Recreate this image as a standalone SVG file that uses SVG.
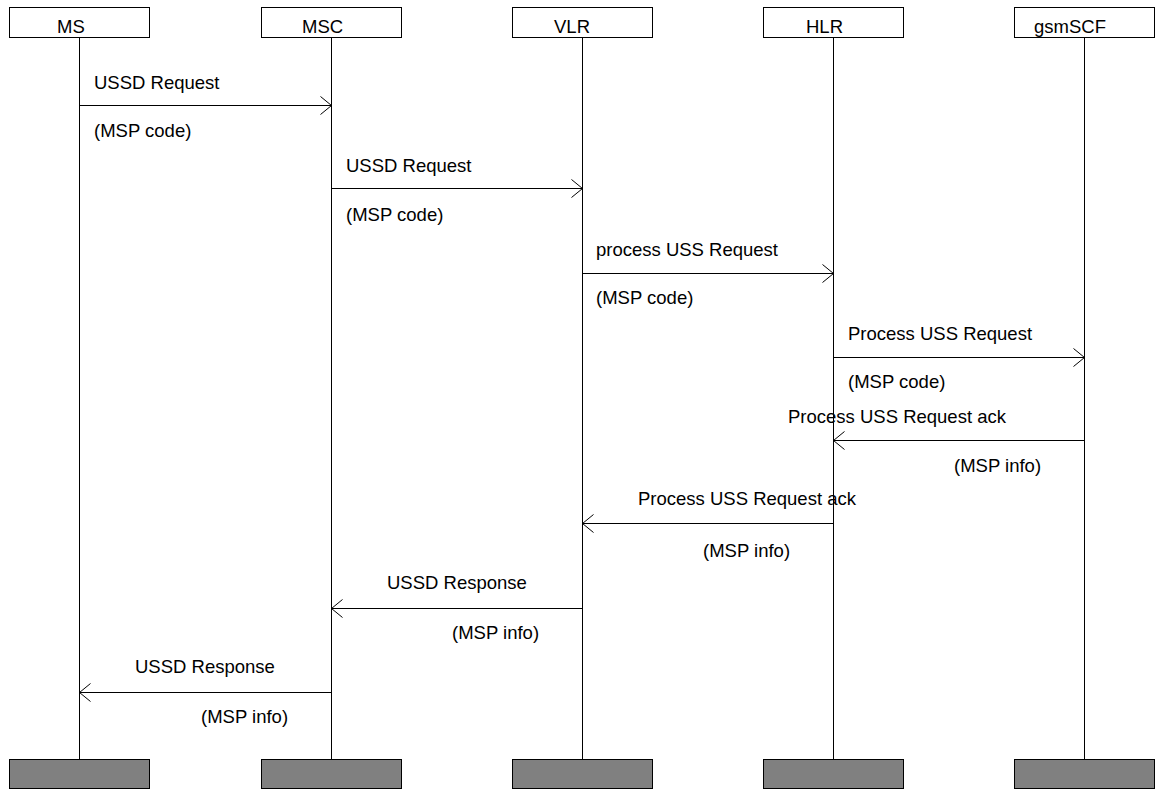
<svg xmlns="http://www.w3.org/2000/svg" width="1157" height="789" viewBox="0 0 1157 789">
<style>
  text { font-family: "Liberation Sans", Arial, sans-serif; font-size: 18.5px; fill: #000; }
  .head { fill: #fff; stroke: #000; stroke-width: 1; }
  .foot { fill: #808080; stroke: #000; stroke-width: 1; }
  .life { stroke: #000; stroke-width: 1; }
  .msg { stroke: #000; stroke-width: 1; fill: none; marker-end: url(#arr); }
</style>
<defs>
  <marker id="arr" markerUnits="userSpaceOnUse" markerWidth="14" markerHeight="22" viewBox="-13 -11 14 22" refX="0" refY="0" orient="auto">
    <path d="M-11,-9 L0,0 L-11,9" fill="none" stroke="#000" stroke-width="1"/>
  </marker>
</defs>
<rect width="1157" height="789" fill="#fff"/>
<g id="MS">
  <line class="life" x1="79.5" y1="37" x2="79.5" y2="759"/>
  <rect class="head" x="9.5" y="7.5" width="140" height="30"/>
  <text x="57" y="33">MS</text>
  <rect class="foot" x="9.5" y="759.5" width="140" height="29"/>
</g>
<g id="MSC">
  <line class="life" x1="331.5" y1="37" x2="331.5" y2="759"/>
  <rect class="head" x="261.5" y="7.5" width="140" height="30"/>
  <text x="302" y="33">MSC</text>
  <rect class="foot" x="261.5" y="759.5" width="140" height="29"/>
</g>
<g id="VLR">
  <line class="life" x1="582.5" y1="37" x2="582.5" y2="759"/>
  <rect class="head" x="512.5" y="7.5" width="140" height="30"/>
  <text x="554" y="33">VLR</text>
  <rect class="foot" x="512.5" y="759.5" width="140" height="29"/>
</g>
<g id="HLR">
  <line class="life" x1="833.5" y1="37" x2="833.5" y2="759"/>
  <rect class="head" x="763.5" y="7.5" width="140" height="30"/>
  <text x="806" y="33">HLR</text>
  <rect class="foot" x="763.5" y="759.5" width="140" height="29"/>
</g>
<g id="gsmSCF">
  <line class="life" x1="1084.5" y1="37" x2="1084.5" y2="759"/>
  <rect class="head" x="1014.5" y="7.5" width="140" height="30"/>
  <text x="1034" y="33">gsmSCF</text>
  <rect class="foot" x="1014.5" y="759.5" width="140" height="29"/>
</g>
<g id="connectors">
  <line class="msg" x1="79.5" y1="105.5" x2="331.5" y2="105.5"/>
  <text x="94" y="89">USSD Request</text>
  <text x="94" y="137">(MSP code)</text>

  <line class="msg" x1="331.5" y1="188.5" x2="582.5" y2="188.5"/>
  <text x="346" y="172">USSD Request</text>
  <text x="346" y="221">(MSP code)</text>

  <line class="msg" x1="582.5" y1="273.5" x2="833.5" y2="273.5"/>
  <text x="596" y="256">process USS Request</text>
  <text x="596" y="304">(MSP code)</text>

  <line class="msg" x1="833.5" y1="357.5" x2="1084.5" y2="357.5"/>
  <text x="848" y="340">Process USS Request</text>
  <text x="848" y="388">(MSP code)</text>

  <line class="msg" x1="1084.5" y1="440.5" x2="833.5" y2="440.5"/>
  <text x="788" y="423">Process USS Request ack</text>
  <text x="954" y="472">(MSP info)</text>

  <line class="msg" x1="833.5" y1="523.5" x2="582.5" y2="523.5"/>
  <text x="638" y="505">Process USS Request ack</text>
  <text x="703" y="557">(MSP info)</text>

  <line class="msg" x1="582.5" y1="608.5" x2="331.5" y2="608.5"/>
  <text x="387" y="589">USSD Response</text>
  <text x="452" y="639">(MSP info)</text>

  <line class="msg" x1="331.5" y1="692.5" x2="79.5" y2="692.5"/>
  <text x="135" y="673">USSD Response</text>
  <text x="201" y="723">(MSP info)</text>
</g>
</svg>
